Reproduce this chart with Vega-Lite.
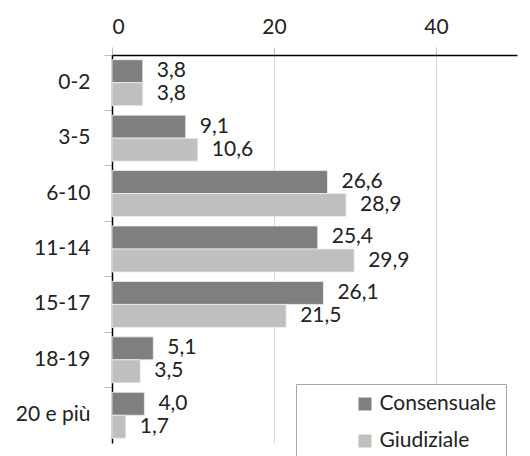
{
  "$schema": "https://vega.github.io/schema/vega-lite/v6.json",
  "width": 405,
  "height": 388,
  "autosize": {"type": "none"},
  "padding": {"left": 112, "top": 55, "right": 13, "bottom": 13},
  "background": "white",
  "config": {
    "font": "Lato",
    "view": {"stroke": null}
  },
  "data": {
    "values": [
      {"eta": "0-2", "tipo": "Consensuale", "v": 3.8},
      {"eta": "0-2", "tipo": "Giudiziale", "v": 3.8},
      {"eta": "3-5", "tipo": "Consensuale", "v": 9.1},
      {"eta": "3-5", "tipo": "Giudiziale", "v": 10.6},
      {"eta": "6-10", "tipo": "Consensuale", "v": 26.6},
      {"eta": "6-10", "tipo": "Giudiziale", "v": 28.9},
      {"eta": "11-14", "tipo": "Consensuale", "v": 25.4},
      {"eta": "11-14", "tipo": "Giudiziale", "v": 29.9},
      {"eta": "15-17", "tipo": "Consensuale", "v": 26.1},
      {"eta": "15-17", "tipo": "Giudiziale", "v": 21.5},
      {"eta": "18-19", "tipo": "Consensuale", "v": 5.1},
      {"eta": "18-19", "tipo": "Giudiziale", "v": 3.5},
      {"eta": "20 e più", "tipo": "Consensuale", "v": 4.0},
      {"eta": "20 e più", "tipo": "Giudiziale", "v": 1.7}
    ]
  },
  "transform": [
    {"calculate": "replace(format(datum.v, '.1f'), '.', ',')", "as": "label"}
  ],
  "encoding": {
    "y": {
      "field": "eta", "type": "nominal",
      "sort": ["0-2", "3-5", "6-10", "11-14", "15-17", "18-19", "20 e più"],
      "scale": {"paddingInner": 0.17, "paddingOuter": 0.085},
      "axis": {
        "title": null, "orient": "left",
        "domainColor": "black", "domainWidth": 1.5,
        "tickColor": "#bfbfbf", "tickSize": 8, "bandPosition": -0.1,
        "labelFontSize": 21, "labelColor": "#222222", "labelPadding": 14
      }
    },
    "yOffset": {
      "field": "tipo", "type": "nominal",
      "sort": ["Consensuale", "Giudiziale"],
      "scale": {"paddingInner": 0, "paddingOuter": 0}
    },
    "x": {
      "field": "v", "type": "quantitative",
      "scale": {"domain": [0, 50], "nice": false},
      "axis": {
        "title": null, "orient": "top", "values": [0, 20, 40],
        "domainColor": "black", "domainWidth": 1.5,
        "tickColor": "#bfbfbf", "tickSize": 8,
        "gridColor": "#d9d9d9", "grid": true,
        "labelFontSize": 21, "labelColor": "#222222", "labelPadding": 10
      }
    }
  },
  "layer": [
    {
      "mark": {"type": "bar", "stroke": "#f0f0f0", "strokeWidth": 0.8},
      "encoding": {
        "color": {
          "field": "tipo", "type": "nominal",
          "scale": {"domain": ["Consensuale", "Giudiziale"], "range": ["#7f7f7f", "#bfbfbf"]},
          "legend": {
            "title": null, "orient": "none", "legendX": 184, "legendY": 329,
            "strokeColor": "#a6a6a6", "fillColor": "white", "padding": 9.5,
            "symbolType": "square", "symbolSize": 169, "symbolStrokeWidth": 0,
            "symbolOffset": 49, "labelFontSize": 21, "labelColor": "#222222",
            "rowPadding": 15, "labelOffset": 4,
            "labelExpr": "datum.label + '            '"
          }
        }
      }
    },
    {
      "mark": {"type": "text", "align": "left", "baseline": "middle", "dx": 14, "fontSize": 21, "color": "#222222"},
      "encoding": {"text": {"field": "label"}}
    }
  ]
}
